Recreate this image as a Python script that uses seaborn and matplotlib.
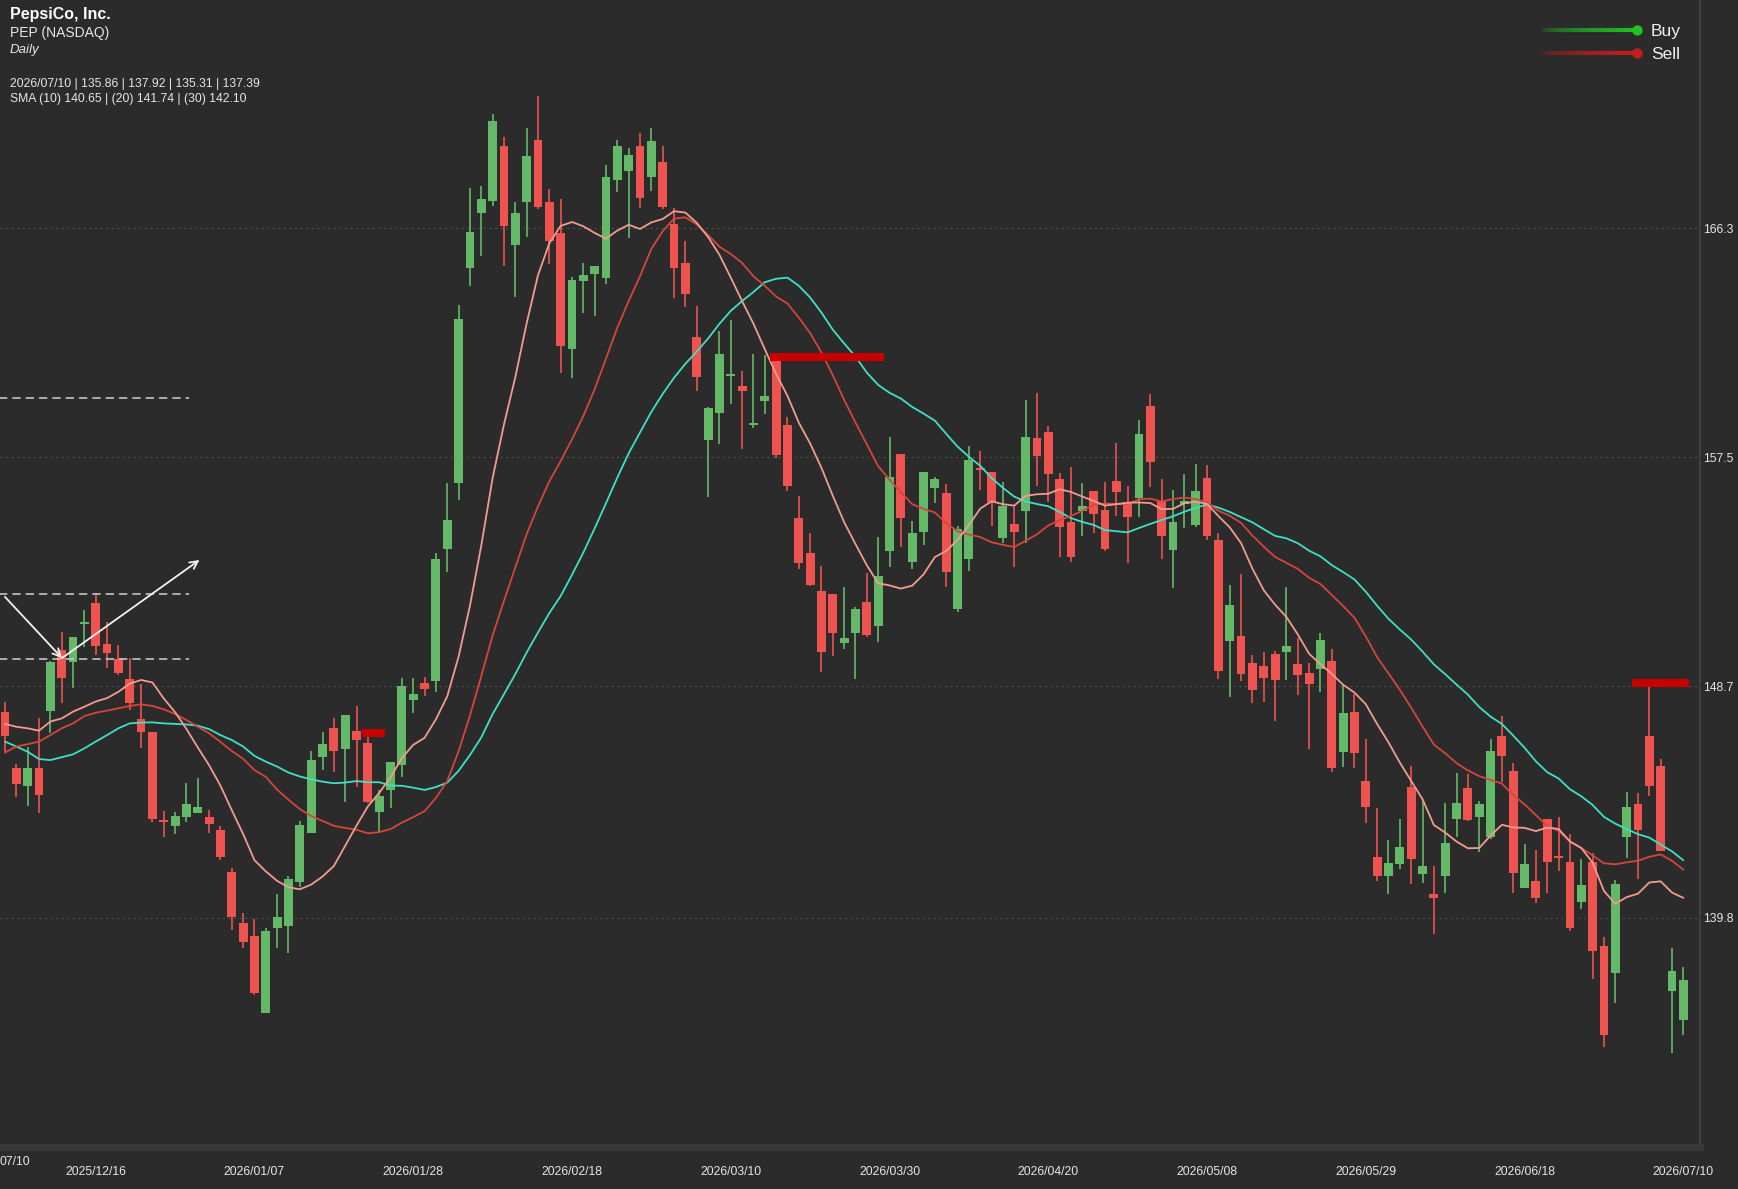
import numpy as np
import pandas as pd
import matplotlib
matplotlib.use("Agg")
import matplotlib.pyplot as plt
from matplotlib.collections import LineCollection
import seaborn as sns

# daily OHLC (bar 0 = leftmost visible session)
opens = [147.70, 145.54, 144.86, 145.54, 147.76, 150.09, 149.62, 151.09, 151.91, 150.32,
         149.75, 148.98, 147.45, 146.95, 143.57, 143.34, 143.66, 143.81, 143.69, 143.17,
         141.57, 139.59, 139.10, 136.15, 139.40, 139.49, 141.19, 143.05, 145.96, 147.08,
         146.29, 146.98, 146.51, 143.88, 144.71, 145.67, 148.15, 148.84, 148.90, 153.96,
         156.49, 164.78, 166.89, 167.34, 169.46, 165.65, 167.29, 169.69, 167.32, 166.10,
         161.65, 164.28, 164.54, 164.40, 168.17, 168.51, 169.44, 168.26, 168.83, 166.46,
         164.95, 162.11, 158.16, 159.18, 160.61, 160.23, 158.75, 159.67, 161.30, 158.74,
         155.17, 153.80, 152.37, 152.23, 150.35, 150.75, 151.92, 151.02, 153.91, 157.61,
         153.46, 154.64, 156.30, 156.11, 151.66, 153.59, 157.08, 156.92, 154.41, 154.92,
         155.45, 158.25, 158.45, 156.67, 155.00, 155.45, 156.20, 155.47, 156.59, 155.79,
         155.92, 159.47, 155.83, 153.94, 155.70, 154.90, 156.69, 154.32, 150.44, 150.63,
         149.58, 149.48, 149.93, 150.00, 149.54, 149.22, 149.35, 149.65, 146.16, 147.70,
         145.07, 142.15, 141.42, 141.87, 144.82, 141.47, 140.72, 141.42, 143.59, 144.78,
         143.69, 142.92, 146.80, 145.44, 140.93, 141.22, 143.60, 142.19, 141.96, 140.42,
         141.96, 138.73, 137.67, 142.89, 144.18, 146.79, 145.64, 136.99, 135.86]
highs = [148.11, 145.71, 146.38, 147.46, 149.65, 150.80, 150.58, 151.63, 152.27, 151.18,
         150.28, 149.80, 148.80, 146.95, 143.92, 143.88, 144.99, 145.16, 143.94, 143.33,
         141.70, 139.97, 139.74, 139.40, 140.70, 141.41, 143.53, 146.21, 146.93, 147.47,
         147.59, 147.94, 146.76, 144.71, 145.80, 149.00, 149.00, 149.05, 153.80, 156.52,
         163.34, 167.83, 167.92, 170.67, 169.81, 167.32, 170.17, 171.39, 167.79, 167.44,
         164.43, 164.95, 164.86, 168.73, 169.69, 169.40, 169.97, 170.16, 169.46, 167.09,
         165.80, 163.31, 159.44, 162.35, 162.77, 160.82, 161.46, 161.43, 161.36, 159.03,
         156.01, 154.60, 153.32, 152.23, 152.50, 151.73, 153.06, 154.44, 158.29, 157.61,
         155.06, 156.93, 156.75, 156.47, 154.85, 157.93, 157.72, 156.92, 156.54, 155.67,
         159.70, 159.96, 158.68, 156.91, 157.11, 156.52, 156.20, 156.56, 158.04, 156.40,
         158.93, 159.93, 156.65, 156.24, 156.84, 157.23, 157.20, 154.60, 152.60, 153.00,
         149.90, 150.00, 150.06, 152.50, 150.54, 149.58, 150.76, 150.12, 148.75, 148.40,
         146.66, 144.01, 142.79, 143.59, 145.64, 144.27, 141.79, 144.20, 145.38, 145.32,
         144.27, 146.67, 147.56, 145.74, 142.64, 142.41, 143.60, 143.66, 143.02, 142.05,
         142.28, 139.05, 141.25, 144.65, 144.61, 148.92, 145.89, 138.63, 137.92]
lows = [146.12, 144.43, 144.11, 143.81, 146.91, 148.04, 148.64, 150.19, 149.90, 149.39,
        149.13, 147.79, 146.34, 143.47, 142.89, 143.02, 143.49, 143.81, 143.07, 142.02,
        139.33, 138.63, 136.83, 136.15, 138.63, 138.46, 141.00, 143.05, 145.46, 145.42,
        144.23, 144.84, 144.20, 143.11, 144.03, 145.22, 147.66, 148.33, 148.49, 153.10,
        155.85, 164.09, 165.24, 167.16, 164.86, 163.67, 165.97, 167.03, 164.91, 160.72,
        160.55, 163.05, 162.94, 164.14, 167.68, 165.91, 167.09, 167.73, 167.03, 163.60,
        163.28, 160.06, 155.98, 158.01, 159.53, 157.80, 158.61, 159.15, 157.46, 156.21,
        153.19, 152.55, 149.26, 149.86, 150.11, 148.96, 150.58, 150.38, 153.29, 154.06,
        153.19, 154.12, 155.73, 152.50, 151.55, 153.14, 156.24, 154.86, 154.19, 153.27,
        154.19, 156.41, 155.76, 153.65, 153.49, 154.47, 154.60, 153.91, 155.24, 153.42,
        155.22, 156.37, 153.58, 152.46, 154.79, 154.81, 154.30, 148.97, 148.30, 148.88,
        148.07, 148.11, 147.38, 148.92, 148.36, 146.29, 148.49, 145.42, 145.61, 145.55,
        143.46, 141.23, 140.72, 141.68, 141.10, 141.15, 139.18, 140.77, 142.92, 143.50,
        142.31, 142.82, 145.03, 140.77, 140.93, 140.38, 140.77, 141.58, 139.29, 140.13,
        137.44, 134.85, 136.52, 142.09, 141.28, 144.46, 142.35, 134.62, 135.31]
closes = [146.80, 144.94, 145.54, 144.52, 149.62, 149.00, 150.58, 151.18, 150.24, 149.99,
          149.22, 148.07, 146.95, 143.58, 143.48, 143.71, 144.16, 144.06, 143.39, 142.15,
          139.81, 138.88, 136.90, 139.29, 139.81, 141.28, 143.37, 145.87, 146.48, 146.21,
          147.59, 146.63, 144.26, 144.49, 145.80, 148.71, 148.40, 148.58, 153.58, 155.09,
          162.81, 166.16, 167.42, 170.42, 166.38, 166.89, 169.08, 167.12, 165.82, 161.78,
          164.31, 164.52, 164.86, 168.25, 169.47, 169.11, 167.47, 169.65, 167.12, 164.78,
          163.77, 160.59, 159.38, 161.46, 160.71, 160.06, 158.80, 159.85, 157.58, 156.39,
          153.45, 152.59, 150.00, 150.73, 150.56, 151.65, 150.67, 152.93, 156.75, 155.17,
          154.57, 156.93, 156.65, 153.10, 154.73, 157.40, 156.99, 155.76, 155.63, 154.64,
          158.29, 157.56, 156.86, 154.83, 153.68, 155.63, 155.31, 153.97, 156.18, 155.19,
          158.39, 157.33, 154.49, 154.99, 155.83, 156.20, 154.49, 149.30, 151.82, 149.16,
          148.56, 149.03, 148.94, 150.26, 149.13, 148.77, 150.48, 145.57, 147.66, 146.15,
          144.07, 141.42, 141.90, 142.50, 142.05, 141.79, 140.55, 142.66, 144.20, 143.56,
          144.18, 146.19, 146.03, 141.51, 141.87, 140.55, 141.93, 142.09, 139.42, 141.06,
          138.54, 135.30, 141.10, 144.07, 143.18, 144.87, 142.37, 137.77, 137.39]

# moving averages before enough visible history exists
sma10_head = [147.25, 147.14, 147.08, 146.99, 147.34, 147.46, 147.72, 147.91, 148.11]
sma20_head = [146.15, 146.38, 146.47, 146.57, 146.82, 147.08, 147.27, 147.55, 147.68, 147.76,
              147.85, 147.94, 148.00, 147.94, 147.81, 147.63, 147.40, 147.14, 146.89]
sma30_head = [146.57, 146.38, 146.18, 145.90, 145.86, 145.97, 146.08, 146.31, 146.57, 146.82,
              147.08, 147.27, 147.30, 147.31, 147.27, 147.25, 147.23, 147.18, 147.05, 146.82,
              146.63, 146.38, 146.02, 145.80, 145.61, 145.38, 145.23, 145.12, 145.03]

tick_bars = [8, 22, 36, 50, 64, 78, 92, 106, 120, 134, 148]
tick_dates = ["2025/12/16", "2026/01/07", "2026/01/28", "2026/02/18", "2026/03/10",
              "2026/03/30", "2026/04/20", "2026/05/08", "2026/05/29", "2026/06/18",
              "2026/07/10"]
price_ticks = [139.8, 148.7, 157.5, 166.3]

# sell signal levels and the bars they cover
sell_level = [146.90, 161.35, 148.82]
sell_first = [32, 68, 144]
sell_last = [33, 77, 148]

# hand-drawn annotations on the left
guide_level = [159.77, 152.24, 149.74]
guide_end_bar = 16.2
arrow_bar = [0.0, 5.03, 17.15]
arrow_price = [152.13, 149.78, 153.55]

BG = "#2b2b2b"
GREEN = "#63b967"
RED = "#ee5350"
C10, C20, C30 = "#f29c90", "#d3463c", "#3fe0c6"
TXT = "#e6e6e6"

sns.set_theme(style="dark", rc={"axes.facecolor": BG, "figure.facecolor": BG,
                                "savefig.facecolor": BG})
plt.rcParams["font.family"] = ["Liberation Sans", "DejaVu Sans"]

W, H = 1738, 1189
fig = plt.figure(figsize=(W / 100, H / 100), dpi=100)
ax = fig.add_axes([0, 1 - 1147 / H, 1700 / W, 1147 / H])

df = pd.DataFrame({"bar": np.arange(len(closes)), "open": opens, "high": highs,
                   "low": lows, "close": closes})
col = np.where(df["close"] >= df["open"], GREEN, RED)

ax.vlines(df["bar"], df["low"], df["high"], colors=col, lw=1.2, zorder=2)
body = np.maximum((df["close"] - df["open"]).abs(), 0.05)
ax.bar(df["bar"], body, bottom=np.minimum(df["open"], df["close"]), width=0.78,
       color=col, lw=0, zorder=3)

for win, head, c in [(30, sma30_head, C30), (20, sma20_head, C20), (10, sma10_head, C10)]:
    sma = df["close"].rolling(win).mean()
    sma.iloc[:len(head)] = head
    sns.lineplot(x=df["bar"], y=sma, color=c, lw=1.3, ax=ax, zorder=4, legend=False)

for lvl, a, b in zip(sell_level, sell_first, sell_last):
    ax.hlines(lvl, a - 0.5, b + 0.5, color="#c80000", lw=5.8, zorder=5)

ax.hlines(guide_level, -0.5, guide_end_bar, colors="#c4c4c4", lw=1.2,
          linestyles=(0, (5, 3)), zorder=6)
for k in range(2):
    ax.annotate("", xy=(arrow_bar[k + 1], arrow_price[k + 1]),
                xytext=(arrow_bar[k], arrow_price[k]),
                arrowprops=dict(arrowstyle="->", color="#f2f2f2", lw=1.3,
                                shrinkA=0, shrinkB=0, mutation_scale=14), zorder=6)

ax.set_xlim(-0.44, 149.47)
ax.set_ylim(130.99, 175.07)
ax.set_xlabel("")
ax.set_ylabel("")
ax.set_xticks(tick_bars, tick_dates)
ax.yaxis.tick_right()
ax.set_yticks(price_ticks, [f"{v:.1f}" for v in price_ticks])
ax.tick_params(axis="x", length=0, pad=14, labelsize=8.7, colors=TXT)
ax.tick_params(axis="y", length=0, pad=2.5, labelsize=8.7, colors=TXT)
ax.grid(axis="y", color="#505050", lw=0.8, ls=(0, (2, 3)))
ax.grid(axis="x", visible=False)
for s in ["left", "top"]:
    ax.spines[s].set_visible(False)
ax.spines["right"].set_color("#404040")
ax.spines["right"].set_linewidth(1.5)
ax.spines["bottom"].set_color("#383838")
ax.spines["bottom"].set_linewidth(5)

# overlay in pixel units for header text and signal legend
ov = fig.add_axes([0, 0, 1, 1], facecolor="none")
ov.set_xlim(0, W)
ov.set_ylim(H, 0)
ov.axis("off")

ov.text(10, 19, "PepsiCo, Inc.", fontsize=11.5, weight="bold", color="white", va="baseline")
ov.text(10, 37, "PEP (NASDAQ)", fontsize=10, color=TXT, va="baseline")
ov.text(10, 53, "Daily", fontsize=9.5, style="italic", color=TXT, va="baseline")
last = df.iloc[-1]
ov.text(10, 87, f"{tick_dates[-1]} | {last['open']:.2f} | {last['high']:.2f} | "
        f"{last['low']:.2f} | {last['close']:.2f}", fontsize=8.7, color=TXT, va="baseline")
ov.text(10, 102, "SMA (10) 140.65 | (20) 141.74 | (30) 142.10", fontsize=8.7,
        color=TXT, va="baseline")
ov.text(0, 1162, "07/10", fontsize=8.7, color=TXT, va="center", ha="left")

for label, yy, c in [("Buy", 30, "#1fc21f"), ("Sell", 53, "#c81c1c")]:
    xs = np.linspace(1540, 1637, 40)
    segs = [[(xs[j], yy), (xs[j + 1], yy)] for j in range(len(xs) - 1)]
    rgba = np.array([matplotlib.colors.to_rgba(c)] * len(segs))
    rgba[:, 3] = np.linspace(0.0, 1.0, len(segs)) ** 0.5
    ov.add_collection(LineCollection(segs, colors=rgba, linewidths=3.0, capstyle="butt"))
    ov.plot([1637], [yy], "o", color=c, ms=7.5, mew=0)
    ov.text(1651, yy + 6, label, fontsize=12.5, color="#f0f0f0", va="baseline")

fig.savefig("out.png", dpi=100)
